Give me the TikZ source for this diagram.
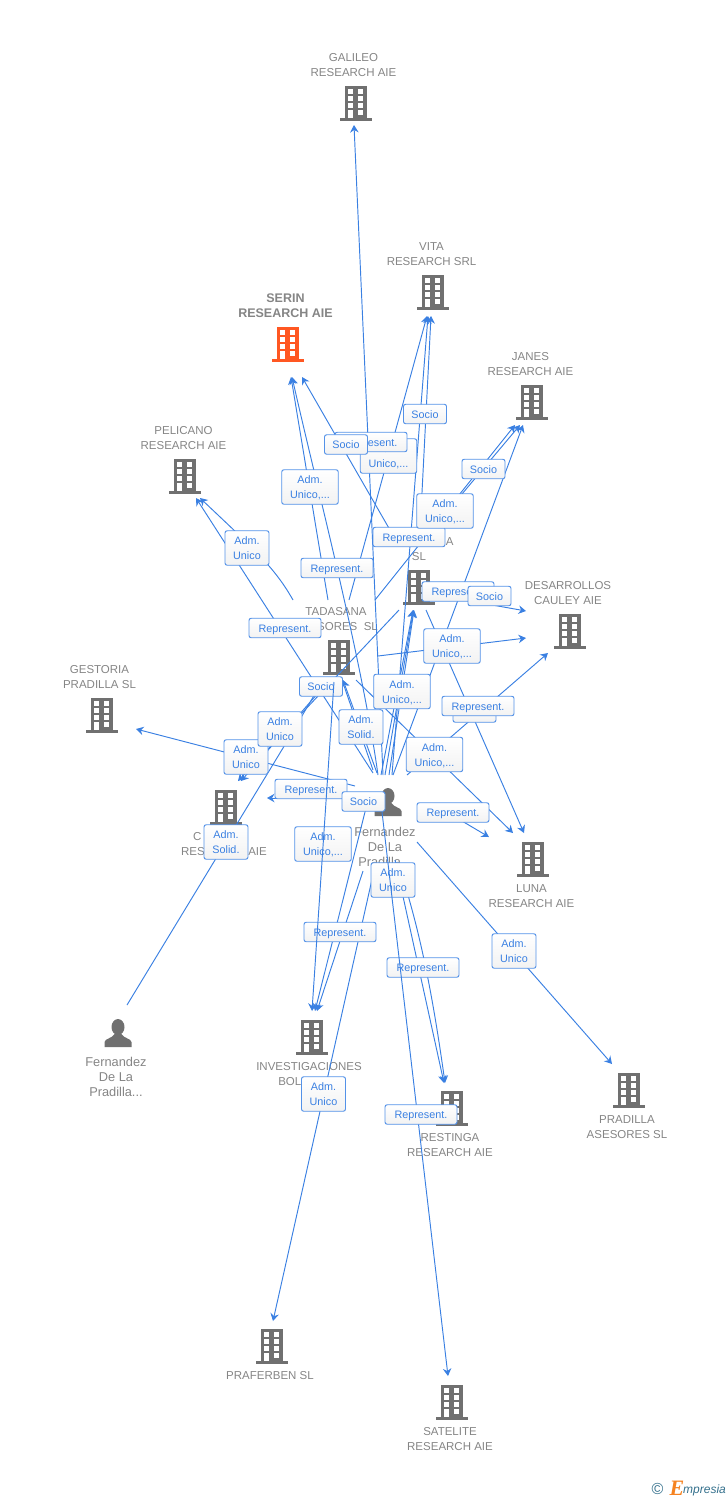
\documentclass[tikz,border=0pt]{standalone}
\usepackage{fontspec}
\setmainfont{Liberation Sans}
\newfontfamily\logofont{Liberation Serif}
\usetikzlibrary{arrows.meta}
\definecolor{linkblue}{RGB}{58,128,226}
\definecolor{boxblue}{RGB}{84,146,232}
\definecolor{entgray}{RGB}{133,133,133}
\definecolor{iconsgray}{RGB}{112,112,112}
\definecolor{serinred}{RGB}{255,87,34}
\definecolor{logoteal}{RGB}{52,112,140}
\definecolor{logoorange}{RGB}{245,130,32}
\tikzset{
  conn/.style={draw=linkblue,line width=0.95pt,-{Stealth[length=7.5pt,width=8.5pt,inset=2.5pt]}},
  plainconn/.style={draw=linkblue,line width=0.95pt},
  lab/.style={draw=boxblue,line width=0.95pt,rounded corners=2.2pt,top color=white,bottom color=black!5,
    text=linkblue,inner sep=0pt,align=center,text height=8pt,text depth=0pt,font=\fontsize{10.8}{15}\selectfont},
  rep/.style={lab,minimum width=72pt,minimum height=19.5pt},
  soc/.style={lab,minimum width=43pt,minimum height=19.5pt},
  two/.style={lab,text height=23pt,minimum width=56.5pt,minimum height=34.5pt},
  twos/.style={lab,text height=23pt,minimum width=44pt,minimum height=34.5pt},
  ent/.style={text=entgray,inner sep=0pt,align=center,font=\fontsize{11.5}{15}\selectfont},
  entb/.style={text=entgray,inner sep=0pt,align=center,font=\fontsize{12.5}{15}\selectfont\bfseries},
  per/.style={text=entgray,inner sep=0pt,align=center,font=\fontsize{12.8}{15}\selectfont},
  pics/bldg/.style={code={
    \fill[#1] (-11.3,-17) rectangle (11.3,15);
    \fill[#1] (-16,15) rectangle (16,17.5);
    \foreach \yy in {-13.7,-6.7,0.1}{
      \fill[white] (-7.8,\yy) rectangle (-2.6,\yy+4.6);
      \fill[white] (1.8,\yy) rectangle (7,\yy+4.6);
    }
    \fill[white] (-7.8,7) rectangle (-2.6,15);
    \fill[white] (1.8,7) rectangle (7,11.6);
  }},
  pics/persona/.style={code={
    \fill[iconsgray] (0,-7) ellipse (6.5 and 8);
    \fill[iconsgray] (-13.5,13) -- (-13.5,8) .. controls (-13,4.5) and (-6,4.5) .. (-3.5,0) -- (3.5,0)
       .. controls (6,4.5) and (13,4.5) .. (13.5,8) -- (13.5,13) -- cycle;
  }},
}
\begin{document}
\begin{tikzpicture}[x=1pt,y=-1pt]
\useasboundingbox (0,0) rectangle (728,1500);
% connector ends
\coordinate (tGal) at (354,125);
\coordinate (tVitA) at (428,316);
\coordinate (tVitB) at (431,316);
\coordinate (tVitC) at (427,316);
\coordinate (tSerA) at (291,377);
\coordinate (tSerB) at (292,377);
\coordinate (tSerC) at (302,377);
\coordinate (tPelA) at (196,498);
\coordinate (tPelB) at (200,498);
\coordinate (tJanA) at (515,425);
\coordinate (tJanB) at (520,425);
\coordinate (tJanC) at (523,425);
\coordinate (tLaA) at (413,610);
\coordinate (tLaB) at (413.5,610);
\coordinate (tLaC) at (414,610);
\coordinate (tDesA) at (526,611);
\coordinate (tDesB) at (526,638);
\coordinate (tDesC) at (548,653);
\coordinate (tGes) at (136,729);
\coordinate (tTadA) at (342,680);
\coordinate (tTadB) at (343,680);
\coordinate (tCamA) at (238,781);
\coordinate (tCamB) at (241,781);
\coordinate (tCamC) at (267,798);
\coordinate (tLunA) at (513,833);
\coordinate (tLunB) at (524,833);
\coordinate (tLunC) at (489,837);
\coordinate (tPra) at (612,1064);
\coordinate (tInvA) at (312,1011);
\coordinate (tInvB) at (315,1011);
\coordinate (tInvC) at (317,1011);
\coordinate (tResA) at (444,1083);
\coordinate (tResB) at (445,1083);
\coordinate (tPrf) at (273,1321);
\coordinate (tSat) at (448,1376);
% connector starts
\coordinate (sGal) at (383,775);
\coordinate (sVitA) at (392,775);
\coordinate (sVitB) at (421,512);
\coordinate (sVitC) at (349,600);
\coordinate (sSerA) at (328,600);
\coordinate (sSerB) at (378,775);
\coordinate (sSerC) at (390,530);
\coordinate (sPelA) at (293,600);
\coordinate (sPelB) at (373,773);
\coordinate (sJanA) at (375,600);
\coordinate (sJanB) at (446,513);
\coordinate (sJanC) at (393,775);
\coordinate (sLaA) at (381,775);
\coordinate (sLaB) at (385,775);
\coordinate (sLaC) at (389,775);
\coordinate (sDesA) at (453,598);
\coordinate (sDesB) at (378,656);
\coordinate (sDesC) at (407,775);
\coordinate (sGes) at (355,786);
\coordinate (sTadA) at (373,770);
\coordinate (sTadB) at (377,773);
\coordinate (sCamA) at (399,610);
\coordinate (sCamB) at (326,684);
\coordinate (sCamC) at (345,798);
\coordinate (sFer) at (127,1005);
\coordinate (mFer) at (283,748);
\coordinate (eFer) at (322,682);
\coordinate (sLunA) at (356,680);
\coordinate (sLunB) at (426,610);
\coordinate (sLunC) at (440,808);
\coordinate (sPra) at (417,842);
\coordinate (sInvA) at (334,682);
\coordinate (sInvB) at (368,800);
\coordinate (sInvC) at (363,871);
\coordinate (sResA) at (395,860);
\coordinate (sResB) at (405,885);
\coordinate (sPrf) at (375,866);
\coordinate (sSat) at (382,812);
% entity icons and names
\pic at (356,103) {bldg=iconsgray};
\pic at (433,292) {bldg=iconsgray};
\pic at (288,344) {bldg=serinred};
\pic at (532,402) {bldg=iconsgray};
\pic at (185,476) {bldg=iconsgray};
\pic at (419,587) {bldg=iconsgray};
\pic at (570,631) {bldg=iconsgray};
\pic at (339,657) {bldg=iconsgray};
\pic at (102,715) {bldg=iconsgray};
\pic at (226,807) {bldg=iconsgray};
\pic at (533,859) {bldg=iconsgray};
\pic at (312,1037) {bldg=iconsgray};
\pic at (452,1108) {bldg=iconsgray};
\pic at (629,1090) {bldg=iconsgray};
\pic at (272,1346) {bldg=iconsgray};
\pic at (452,1402) {bldg=iconsgray};
\pic at (118,1034) {persona};
\pic at (388,803) {persona};
\node[ent] (nGal) at (353.5,65.5) {GALILEO\\RESEARCH AIE};
\node[ent] (nVit) at (431.5,254.5) {VITA\\RESEARCH SRL};
\node[entb] (nSer) at (285.5,306) {SERIN\\RESEARCH AIE};
\node[ent] (nJan) at (530.5,364.5) {JANES\\RESEARCH AIE};
\node[ent] (nPel) at (183.5,438.5) {PELICANO\\RESEARCH AIE};
\node[ent] (nLa) at (419,549.5) {\phantom{XXXXXXXX}A\\SL};
\node[ent] (nDes) at (568,593.5) {DESARROLLOS\\CAULEY AIE};
\node[ent] (nTad) at (336,619.5) {TADASANA\\ASESORES\ \ SL};
\node[ent] (nGes) at (99.5,677.5) {GESTORIA\\PRADILLA SL};
\node[ent] (nCam) at (224,844.5) {C\phantom{XXXXXXX}\\RESEARCH AIE};
\node[ent] (nLun) at (531.5,896.5) {LUNA\\RESEARCH AIE};
\node[ent] (nInv) at (309,1074.5) {INVESTIGACIONES\\BOLE\phantom{XXXX}};
\node[ent] (nRes) at (450,1145.5) {RESTINGA\\RESEARCH AIE};
\node[ent] (nPra) at (627,1127.5) {PRADILLA\\ASESORES SL};
\node[ent] (nPrf) at (270,1376) {PRAFERBEN SL};
\node[ent] (nSat) at (450,1439.5) {SATELITE\\RESEARCH AIE};
\node[per] (nFerA) at (385,847) {Fernandez\\De La\\Pradilla...};
\node[per] (nFerB) at (116,1077) {Fernandez\\De La\\Pradilla...};
% connectors
\draw[conn] (sGal) -- (tGal);
\draw[conn] (sVitA) -- (tVitA);
\draw[conn] (sVitB) -- (tVitB);
\draw[conn] (sVitC) -- (tVitC);
\draw[conn] (sSerA) -- (tSerA);
\draw[conn] (sSerB) .. controls (362,660) and (320,500) .. (tSerB);
\draw[conn] (sSerC) -- (tSerC);
\draw[conn] (sPelA) .. controls (275,568) and (255,550) .. (tPelB);
\draw[conn] (sPelB) -- (tPelA);
\draw[conn] (sJanA) -- (tJanA);
\draw[conn] (sJanB) -- (tJanB);
\draw[conn] (sJanC) -- (tJanC);
\draw[conn] (sLaA) -- (tLaA);
\draw[conn] (sLaB) -- (tLaB);
\draw[conn] (sLaC) -- (tLaC);
\draw[conn] (sDesA) -- (tDesA);
\draw[conn] (sDesB) -- (tDesB);
\draw[conn] (sDesC) -- (tDesC);
\draw[conn] (sGes) -- (tGes);
\draw[conn] (sTadA) -- (tTadA);
\draw[conn] (sTadB) -- (tTadB);
\draw[conn] (sCamA) -- (tCamA);
\draw[conn] (sCamB) -- (tCamB);
\draw[conn] (sCamC) -- (tCamC);
\draw[plainconn] (sFer) -- (mFer) -- (eFer);
\draw[conn] (sLunA) -- (tLunA);
\draw[conn] (sLunB) -- (tLunB);
\draw[conn] (sLunC) -- (tLunC);
\draw[conn] (sPra) -- (tPra);
\draw[conn] (sInvB) -- (tInvB);
\draw[conn] (sInvC) -- (tInvC);
\draw[conn] (sResA) -- (tResA);
\draw[conn] (sResB) .. controls (420,935) and (432,990) .. (tResB);
\draw[conn] (sPrf) -- (tPrf);
% labels
\node[soc] (l01) at (425,414) {Socio};
\node[two] (l02) at (388.5,456) {Adm.\\Unico,...};
\node[rep] (l03) at (371,442) {Represent.};
\node[soc] (l04) at (346,444.5) {Socio};
\node[soc] (l05) at (483.5,469) {Socio};
\node[two] (l06) at (310,487) {Adm.\\Unico,...};
\node[rep] (l07) at (409,537) {Represent.};
\node[two] (l08) at (445,511) {Adm.\\Unico,...};
\node[twos] (l09) at (247,548) {Adm.\\Unico};
\node[rep] (l10) at (337,568) {Represent.};
\node[rep] (l11) at (458,591.5) {Represent.};
\node[soc] (l12) at (489.5,596) {Socio};
\node[rep] (l13) at (285,628) {Represent.};
\node[two] (l14) at (452,646) {Adm.\\Unico,...};
\node[soc] (l15) at (321,686.5) {Socio};
\node[two] (l16) at (402,691.5) {Adm.\\Unico,...};
\node[soc] (l17) at (474.5,712.5) {};
\node[rep] (l18) at (478,706) {Represent.};
\node[twos] (l19) at (361,727) {Adm.\\Solid.};
\node[twos] (l20) at (246,757) {Adm.\\Unico};
\node[twos] (l21) at (280,729) {Adm.\\Unico};
\node[two] (l22) at (434.5,754.5) {Adm.\\Unico,...};
\node[rep] (l23) at (311,789) {Represent.};
\node[soc] (l24) at (363.5,801.5) {Socio};
\node[rep] (l25) at (453,812.5) {Represent.};
\node[twos] (l26) at (226,842) {Adm.\\Solid.};
\node[two] (l27) at (323,844) {Adm.\\Unico,...};
\node[twos] (l28) at (393,880) {Adm.\\Unico};
\node[rep] (l29) at (340,932) {Represent.};
\node[twos] (l30) at (514,951) {Adm.\\Unico};
\node[rep] (l31) at (423,967.5) {Represent.};
\node[twos] (l32) at (323.5,1094) {Adm.\\Unico};
% connectors that lie over the labels
\draw[conn] (sInvA) -- (tInvA);
\draw[conn] (sSat) -- (tSat);
\node[rep] (l33) at (421,1114.5) {Represent.};
% logo
\node[inner sep=0pt,text=logoteal,font=\fontsize{16}{16}\selectfont] (logoA) at (657.5,1488.5) {©};
\node[inner sep=0pt,text=logoorange,font=\logofont\itshape\bfseries\fontsize{22}{22}\selectfont] (logoB) at (677,1488) {E};
\node[inner sep=0pt,text=logoteal,anchor=west,font=\itshape\fontsize{12}{12}\selectfont] (logoC) at (683,1490) {mpresia};
\end{tikzpicture}
\end{document}
